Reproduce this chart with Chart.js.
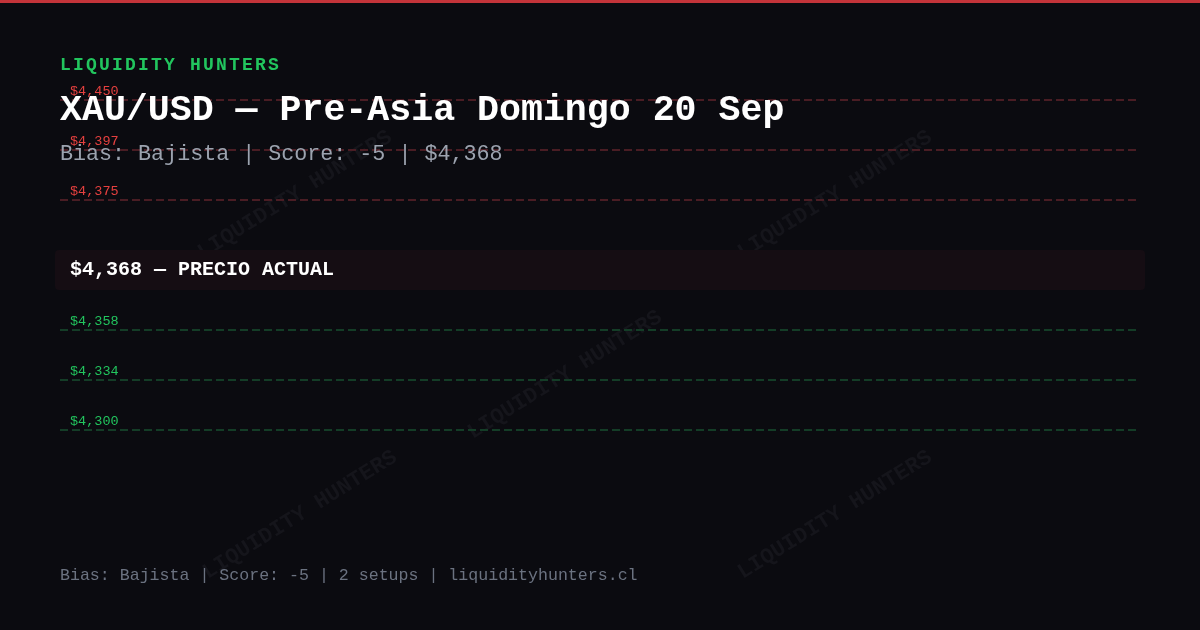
<!DOCTYPE html>
<html>
<head>
<meta charset="utf-8">
<script src="https://cdn.jsdelivr.net/npm/chart.js@4.4.1/dist/chart.umd.min.js"></script>
<style>
  html, body { margin: 0; padding: 0; background: #0b0b10; }
  #wrap { position: relative; width: 1200px; height: 630px; overflow: hidden; background: #0b0b10; }
  #wrap::before { content: ""; position: absolute; left: 0; top: 0; width: 1200px; height: 3px; background: #c4343a; z-index: 3; }
  canvas { position: absolute; left: 0; top: 0; }
  .txt { position: absolute; left: 60px; font-family: "Liberation Mono", "DejaVu Sans Mono", monospace; white-space: nowrap; z-index: 2; }
  #brand { top: 55px; font-size: 18px; font-weight: 700; letter-spacing: 2.2px; color: #22c55e; }
  #title { top: 90px; font-size: 36.6px; font-weight: 700; color: #ffffff; }
  #sub { top: 142px; font-size: 21.7px; color: #9ca3af; }
  #foot { top: 566px; font-size: 16.6px; color: #6b7280; }
</style>
</head>
<body>
<div id="wrap">
  <canvas id="levels" width="1200" height="630"></canvas>
  <div class="txt" id="brand">LIQUIDITY HUNTERS</div>
  <div class="txt" id="title">XAU/USD — Pre-Asia Domingo 20 Sep</div>
  <div class="txt" id="sub">Bias: Bajista | Score: -5 | $4,368</div>
  <div class="txt" id="foot">Bias: Bajista | Score: -5 | 2 setups | liquidityhunters.cl</div>
</div>
<script>
"use strict";

// Niveles de precio (de arriba hacia abajo)
const resistances = [4450, 4397, 4375];
const supports    = [4358, 4334, 4300];
const currentPrice = 4368;
const currentLabel = "PRECIO ACTUAL";

const COLORS = {
  resLine:  "#4a1d24",
  resText:  "#e5403f",
  supLine:  "#143d27",
  supText:  "#22c55e",
  band:     "#150d13",
  white:    "#ffffff",
  mark:     "#15151b",
};

const FONT = "'Liberation Mono', 'DejaVu Sans Mono', monospace";
const fmt = v => "$" + v.toLocaleString("en-US");

// posición vertical por orden (no proporcional al precio)
const resSlot = i => i;
const curSlot = resistances.length + 0.4;
const supSlot = j => resistances.length + 1.6 + j;

function levelDataset(price, slot, color, text) {
  return {
    label:       fmt(price),
    data:        [{ x: 0, y: slot }, { x: 1, y: slot }],
    borderColor: color,
    borderWidth: 2,
    borderDash:  [8, 4],
    borderCapStyle: "butt",
    pointRadius: 0,
    fill:        false,
    textColor:   text,
  };
}

const datasets = [
  ...resistances.map((p, i) => levelDataset(p, resSlot(i), COLORS.resLine, COLORS.resText)),
  ...supports.map((p, j) => levelDataset(p, supSlot(j), COLORS.supLine, COLORS.supText)),
];

// Marcas de agua
const watermarkPlugin = {
  id: "watermarks",
  beforeDraw(chart) {
    const ctx = chart.ctx;
    const spots = [[295, 195], [835, 195], [565, 375], [300, 515], [835, 515]];
    ctx.save();
    ctx.fillStyle = COLORS.mark;
    ctx.font = "700 22px " + FONT;
    ctx.textAlign = "center";
    ctx.textBaseline = "middle";
    spots.forEach(([x, y]) => {
      ctx.save();
      ctx.translate(x, y);
      ctx.rotate(-32 * Math.PI / 180);
      ctx.fillText("LIQUIDITY HUNTERS", 0, 0);
      ctx.restore();
    });
    ctx.restore();
  },
};

// Banda del precio actual + etiquetas de niveles
const levelsPlugin = {
  id: "levelLabels",
  beforeDatasetsDraw(chart) {
    const { ctx, chartArea } = chart;
    const yScale = chart.scales.y;
    const yc = yScale.getPixelForValue(curSlot);
    const x0 = chartArea.left - 5, x1 = chartArea.right + 9;
    ctx.save();
    ctx.fillStyle = COLORS.band;
    ctx.beginPath();
    ctx.roundRect(x0, yc - 20, x1 - x0, 40, 4);
    ctx.fill();
    ctx.fillStyle = COLORS.white;
    ctx.font = "700 20px " + FONT;
    ctx.textBaseline = "middle";
    ctx.fillText(fmt(currentPrice) + " — " + currentLabel, chartArea.left + 10, yc);
    ctx.restore();
  },
  afterDatasetsDraw(chart) {
    const { ctx, chartArea } = chart;
    const yScale = chart.scales.y;
    ctx.save();
    ctx.font = "13.5px " + FONT;
    ctx.textBaseline = "alphabetic";
    chart.data.datasets.forEach(ds => {
      const y = yScale.getPixelForValue(ds.data[0].y);
      ctx.fillStyle = ds.textColor;
      ctx.fillText(ds.label, chartArea.left + 10, y - 5);
    });
    ctx.restore();
  },
};

new Chart(document.getElementById("levels").getContext("2d"), {
  type: "line",
  data: { datasets },
  options: {
    responsive: false,
    animation: false,
    layout: { padding: { left: 60, right: 64, top: 0, bottom: 0 } },
    plugins: { legend: { display: false }, tooltip: { enabled: false } },
    scales: {
      x: { type: "linear", min: 0, max: 1, display: false },
      y: { type: "linear", min: -2, max: 10.6, reverse: true, display: false },
    },
  },
  plugins: [watermarkPlugin, levelsPlugin],
});
</script>
</body>
</html>
